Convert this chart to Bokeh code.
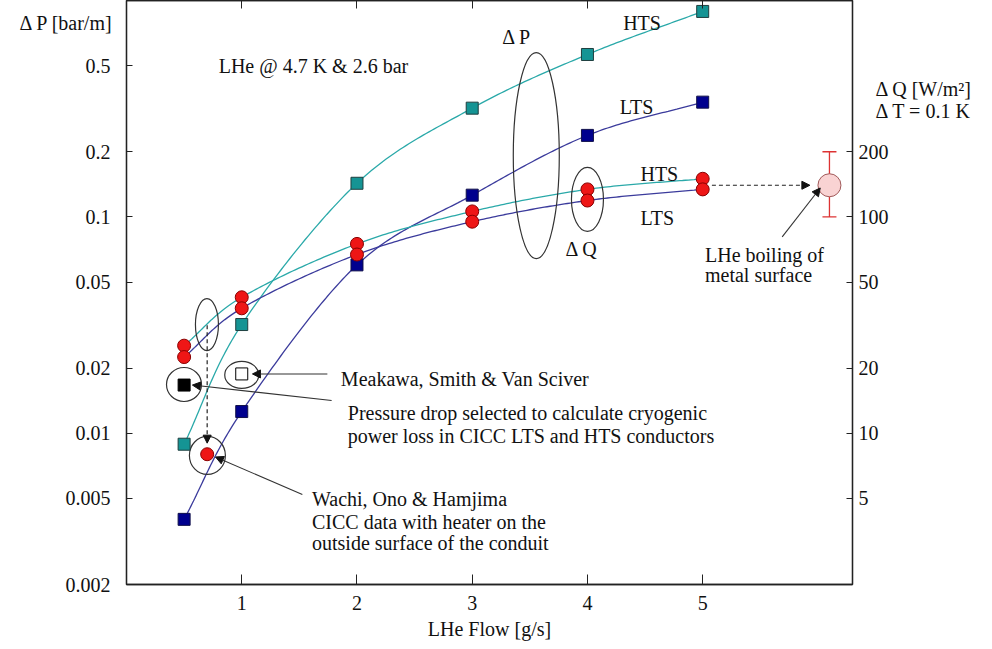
import numpy as np
from bokeh.plotting import figure
from bokeh.models import (Range1d, LogScale, LogAxis, LinearAxis, FixedTicker,
                          CustomJSTickFormatter, Arrow, NormalHead, Whisker, TeeHead,
                          ColumnDataSource)
from bokeh.core.properties import value
from bokeh.embed import file_html
from bokeh.resources import INLINE

# ---------------- data ----------------
flow = [0.5, 1, 2, 3, 4, 5]                       # LHe flow [g/s]
dp_hts = [0.0089, 0.0318, 0.143, 0.318, 0.563, 0.89]   # pressure drop HTS [bar/m]
dp_lts = [0.0040, 0.0126, 0.060, 0.126, 0.238, 0.339]  # pressure drop LTS [bar/m]
dq_hts = [25.4, 42.5, 75, 106, 134, 150]          # heat flux HTS [W/m2]
dq_lts = [22.5, 37.8, 67, 95, 119, 134]           # heat flux LTS [W/m2]

selected_flow, selected_dp = [0.5], [0.0167]      # pressure drop selected
meakawa_flow, meakawa_dp = [1.0], [0.0188]        # Meakawa, Smith & Van Sciver
wachi_flow, wachi_dq = [0.7], [8.0]               # Wachi, Ono & Hamjima
boil_flow, boil_dq, boil_lo, boil_hi = [6.1], [140], [100], [200]  # LHe boiling

x_ticks = [1, 2, 3, 4, 5]
left_ticks = [0.002, 0.005, 0.01, 0.02, 0.05, 0.1, 0.2, 0.5]
right_ticks = [5, 10, 20, 50, 100, 200]

FONT = "Liberation Serif"
FS = "20px"
TEAL_M, TEAL_L = "#159494", "#2aa9a9"
NAVY_M, NAVY_L = "#00008e", "#3b3b9c"
RED = "#ee1616"


def smooth(xs, ys, n=40):
    """Catmull-Rom curve through the points, in (x, log10 y) space."""
    pts = np.column_stack([np.asarray(xs, float), np.log10(np.asarray(ys, float))])
    P = np.vstack([2 * pts[0] - pts[1], pts, 2 * pts[-1] - pts[-2]])
    out = []
    t = np.linspace(0, 1, n, endpoint=False)[:, None]
    for i in range(1, len(P) - 2):
        p0, p1, p2, p3 = P[i - 1], P[i], P[i + 1], P[i + 2]
        seg = 0.5 * (2 * p1 + (-p0 + p2) * t + (2 * p0 - 5 * p1 + 4 * p2 - p3) * t ** 2
                     + (-p0 + 3 * p1 - 3 * p2 + p3) * t ** 3)
        out.append(seg)
    out.append(pts[-1:])
    arr = np.vstack(out)
    return arr[:, 0], 10 ** arr[:, 1]


p = figure(width=992, height=649, x_range=Range1d(0, 6.3), y_range=Range1d(0.002, 1.0),
           y_axis_type="log", output_backend="svg", toolbar_location=None,
           min_border_left=126, min_border_right=140, min_border_top=0, min_border_bottom=65)
p.extra_y_ranges = {"q": Range1d(2, 1000)}
p.extra_y_scales = {"q": LogScale()}
p.grid.visible = False
p.outline_line_color = "#222222"
p.outline_line_width = 1.3
p.background_fill_color = "white"
p.border_fill_color = "white"

fmt = CustomJSTickFormatter(code="return tick.toString()")
blank = CustomJSTickFormatter(code="return ''")


def style_axis(ax, tick_in):
    ax.major_tick_in = tick_in
    ax.major_tick_out = 0
    ax.minor_tick_in = 0
    ax.minor_tick_out = 0
    ax.axis_line_color = "#222222"
    ax.axis_line_width = 1.3
    ax.major_tick_line_color = "#222222"
    ax.major_label_text_font = FONT
    ax.major_label_text_font_size = FS
    ax.major_label_text_color = "#111111"
    ax.axis_label_text_font = FONT
    ax.axis_label_text_font_size = FS
    ax.axis_label_text_font_style = "normal"
    ax.axis_label_text_color = "#111111"


xa = p.xaxis[0]
xa.ticker = FixedTicker(ticks=x_ticks)
style_axis(xa, 10)
xa.major_label_standoff = 11
xa.axis_label = "LHe Flow [g/s]"
xa.axis_label_standoff = 5

ya = p.yaxis[0]
ya.ticker = FixedTicker(ticks=left_ticks)
ya.formatter = fmt
style_axis(ya, 6)
ya.major_label_standoff = 16
ya.axis_label = " \nΔ P [bar/m]"
ya.axis_label_orientation = "horizontal"
ya.axis_label_align = "end"
ya.axis_label_text_line_height = 2.0
ya.axis_label_standoff = -51

ra = LogAxis(y_range_name="q", ticker=FixedTicker(ticks=right_ticks), formatter=fmt)
style_axis(ra, 6)
ra.major_label_standoff = 6
ra.axis_label = " \n" * 9 + "Δ Q [W/m²]\nΔ  T = 0.1 K"
ra.axis_label_orientation = "horizontal"
ra.axis_label_align = "end"
ra.axis_label_text_line_height = 1.0
ra.axis_label_standoff = -16
p.add_layout(ra, "right")

ta = LinearAxis(ticker=FixedTicker(ticks=x_ticks), formatter=blank)
style_axis(ta, 8)
ta.major_label_standoff = 0
p.add_layout(ta, "above")

# ---------------- curves ----------------
for ys, col, rng in [(dp_hts, TEAL_L, "default"), (dp_lts, NAVY_L, "default"),
                     (dq_hts, TEAL_L, "q"), (dq_lts, NAVY_L, "q")]:
    sx, sy = smooth(flow, ys)
    p.line(sx, sy, line_color=col, line_width=1.3, y_range_name=rng)

# ---------------- annotation ellipses ----------------
p.ellipse(x=[3.556, 4.0, 0.698, 0.499, 1.0, 0.702],
          y=[0.192, 0.1205, 0.0318, 0.0168, 0.0186, 0.0079],
          width=[46, 32, 23, 35, 34, 36], height=[206, 64, 52, 34, 27, 38],
          width_units="screen", height_units="screen",
          fill_color=None, line_color="#333333", line_width=1.2)

# ---------------- arrows ----------------
dash_head = dict(size=8, fill_color="#111111", line_color="#111111")
p.add_layout(Arrow(end=NormalHead(**dash_head), x_start=0.70, y_start=0.0316,
                   x_end=0.70, y_end=0.0090, line_dash="4 3", line_color="#222222", line_width=1.2))
p.add_layout(Arrow(end=NormalHead(**dash_head), x_start=5.08, y_start=0.140,
                   x_end=5.93, y_end=0.140, line_dash="4 3", line_color="#222222", line_width=1.2))
for xs_, ys_, xe_, ye_ in [(1.743, 0.0188, 1.093, 0.0188),
                           (1.78, 0.01416, 0.572, 0.0167),
                           (1.526, 0.00521, 0.772, 0.00777),
                           (5.69, 0.0809, 6.02, 0.136)]:
    p.add_layout(Arrow(end=NormalHead(size=8, fill_color="#111111", line_color="#111111"),
                       x_start=xs_, y_start=ys_, x_end=xe_, y_end=ye_,
                       line_color="#333333", line_width=1.1))

# ---------------- markers ----------------
p.scatter(flow, dp_hts, marker="square", size=12, fill_color=TEAL_M, line_color="#1f3f3f")
p.scatter(flow, dp_lts, marker="square", size=12, fill_color=NAVY_M, line_color="#10104a")
p.scatter(flow, dq_hts, marker="circle", size=13, fill_color=RED, line_color="#8a0000",
          y_range_name="q")
p.scatter(flow, dq_lts, marker="circle", size=13, fill_color=RED, line_color="#8a0000",
          y_range_name="q")
p.scatter(selected_flow, selected_dp, marker="square", size=12, fill_color="black",
          line_color="black")
p.scatter(meakawa_flow, meakawa_dp, marker="square", size=12, fill_color="white",
          line_color="black")
p.scatter(wachi_flow, wachi_dq, marker="circle", size=13, fill_color=RED, line_color="#8a0000",
          y_range_name="q")
p.scatter(boil_flow, boil_dq, marker="circle", size=23, fill_color="#f9d3d3",
          line_color="#a05a5a", y_range_name="q")
wsrc = ColumnDataSource(dict(base=boil_flow, lower=boil_lo, upper=boil_hi))
p.add_layout(Whisker(base="base", lower="lower", upper="upper", source=wsrc, dimension="height",
                     y_range_name="q", line_color="#dd3333", line_width=1.3,
                     upper_head=TeeHead(size=14, line_color="#dd3333", line_width=1.3),
                     lower_head=TeeHead(size=14, line_color="#dd3333", line_width=1.3)))

# ---------------- texts ----------------
txt_x = [0.80, 4.31, 4.28, 3.26, 4.46, 4.46, 3.81, 5.02, 5.02, 1.86, 1.92, 1.92, 1.61, 1.61, 1.61]
txt_y = [0.50, 0.79, 0.321, 0.675, 0.158, 0.0993, 0.0711, 0.0667, 0.0538, 0.0178, 0.01245,
         0.00973, 0.00499, 0.0039, 0.00311]
txt = ["LHe @ 4.7 K & 2.6 bar", "HTS", "LTS", "Δ  P", "HTS", "LTS", "Δ Q",
       "LHe boiling of", "metal surface", "Meakawa, Smith & Van Sciver",
       "Pressure drop selected to calculate cryogenic",
       "power loss in CICC LTS and HTS conductors",
       "Wachi, Ono & Hamjima", "CICC data with heater on the",
       "outside surface of the conduit"]
p.text(x=txt_x, y=txt_y, text=txt, text_font=value(FONT), text_font_size=FS,
       text_color="#111111", text_baseline="alphabetic", text_align="left")

open("out.html", "w").write(file_html(p, INLINE))
